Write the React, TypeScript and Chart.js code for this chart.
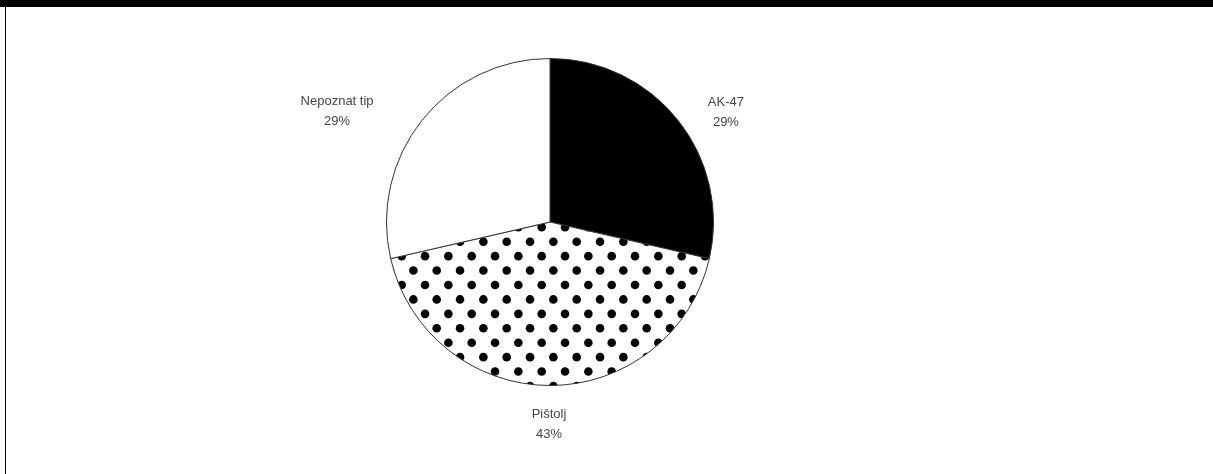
import React, { useEffect, useRef } from "react";
import { Chart, registerables } from "chart.js";

Chart.register(...registerables);

const categories = ["AK-47", "Pištolj", "Nepoznat tip"];
const shares = [28.6, 42.8, 28.6];
const percentLabels = ["29%", "43%", "29%"];

const W = 1213;
const H = 474;

// label nudges relative to the arc's outer mid point (styling, not data)
const labelNudges = [
  { dx: 48, dy: -18 },
  { dx: -1, dy: 29 },
  { dx: -85, dy: -19 },
];

function makeDotPattern(ctx: CanvasRenderingContext2D): CanvasPattern | string {
  const c = document.createElement("canvas");
  c.width = W;
  c.height = H;
  const g = c.getContext("2d");
  if (!g) return "#fff";
  g.fillStyle = "#fff";
  g.fillRect(0, 0, W, H);
  g.fillStyle = "#000";
  const x0 = 506.7;
  const y0 = 241.7;
  const dxs = 23.33;
  const dys = 14.43;
  for (let k = -20; k <= 20; k++) {
    const y = y0 + k * dys;
    const off = Math.abs(k) % 2 === 1 ? dxs / 2 : 0;
    for (let j = -30; j <= 30; j++) {
      const x = x0 + off + j * dxs;
      g.beginPath();
      g.arc(x, y, 4.3, 0, Math.PI * 2);
      g.fill();
    }
  }
  return ctx.createPattern(c, "no-repeat") || "#fff";
}

const labelPlugin = {
  id: "sliceLabels",
  afterDatasetsDraw(chart: any) {
    const { ctx } = chart;
    const meta = chart.getDatasetMeta(0);
    ctx.save();
    ctx.font = "13px 'Liberation Sans', Arial, sans-serif";
    ctx.fillStyle = "#444";
    ctx.textAlign = "center";
    ctx.textBaseline = "middle";
    meta.data.forEach((arc: any, i: number) => {
      const p = arc.getProps(["x", "y", "startAngle", "endAngle", "outerRadius"], true);
      const mid = (p.startAngle + p.endAngle) / 2;
      const bx = p.x + Math.cos(mid) * p.outerRadius + labelNudges[i].dx;
      const by = p.y + Math.sin(mid) * p.outerRadius + labelNudges[i].dy;
      ctx.fillText(categories[i], bx, by);
      ctx.fillText(percentLabels[i], bx, by + 20);
    });
    ctx.restore();
  },
};

export default function App() {
  const ref = useRef<HTMLCanvasElement | null>(null);
  useEffect(() => {
    const canvas = ref.current;
    if (!canvas) return;
    const ctx = canvas.getContext("2d");
    if (!ctx) return;
    const pattern = makeDotPattern(ctx);
    const chart = new Chart(canvas, {
      type: "pie",
      data: {
        labels: categories,
        datasets: [
          {
            data: shares,
            backgroundColor: ["#000000", pattern as any, "#ffffff"],
            borderColor: "#333333",
            borderWidth: 1,
          },
        ],
      },
      options: {
        animation: false,
        responsive: false,
        devicePixelRatio: 1,
        layout: { padding: { left: 386, right: 499, top: 58, bottom: 88 } },
        plugins: {
          legend: { display: false },
          tooltip: { enabled: false },
        },
      },
      plugins: [labelPlugin],
    });
    return () => chart.destroy();
  }, []);

  return (
    <div
      style={{
        position: "fixed",
        left: 0,
        top: 0,
        width: W,
        height: H,
        background: "#fff",
        overflow: "hidden",
      }}
    >
      <canvas ref={ref} width={W} height={H} style={{ position: "absolute", left: 0, top: 0 }} />
      <div style={{ position: "absolute", left: 0, top: 0, width: W, height: 7, background: "#000" }} />
      <div style={{ position: "absolute", left: 5, top: 0, width: 1, height: H, background: "#000" }} />
    </div>
  );
}
